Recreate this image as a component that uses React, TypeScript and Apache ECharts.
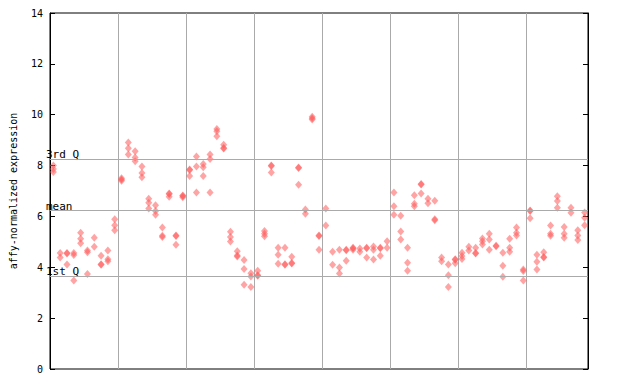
import React, { useEffect, useRef } from "react";
import * as echarts from "echarts";

// values per sample (79 samples, grouped by 10)
const sampleValues: number[][] = [
  [8.0, 7.87, 7.75],
  [4.56, 4.38],
  [4.56, 4.54, 4.11],
  [4.56, 4.48, 3.48],
  [5.36, 5.12, 4.95],
  [4.66, 4.59, 3.74],
  [5.16, 4.81],
  [4.45, 4.12, 4.1],
  [4.66, 4.32, 4.24],
  [5.89, 5.65, 5.46],
  [7.5, 7.45, 7.4],
  [8.91, 8.68, 8.44],
  [8.56, 8.32, 8.17],
  [7.96, 7.71, 7.54],
  [6.7, 6.54, 6.31],
  [6.44, 6.21, 6.07],
  [5.56, 5.24, 5.19],
  [6.9, 6.88, 6.77],
  [5.25, 5.23, 4.89],
  [6.82, 6.8, 6.75],
  [7.85, 7.83, 7.59],
  [8.36, 7.96, 6.94],
  [8.06, 7.93, 7.59],
  [8.44, 8.26, 6.94],
  [9.44, 9.35, 9.15],
  [8.82, 8.69, 8.67],
  [5.4, 5.19, 5.01],
  [4.63, 4.46, 4.42],
  [4.29, 3.93, 3.31],
  [3.77, 3.64, 3.22],
  [3.86, 3.69, 3.67],
  [5.43, 5.32, 5.22],
  [8.0, 7.98, 7.73],
  [4.77, 4.49, 4.14],
  [4.77, 4.12, 4.1],
  [4.41, 4.17, 4.15],
  [7.92, 7.9, 7.25],
  [6.27, 6.11],
  [9.92, 9.86, 9.81],
  [5.25, 5.23, 4.69],
  [6.31, 5.64],
  [4.61, 4.1],
  [4.69, 3.99, 3.76],
  [4.69, 4.67, 4.26],
  [4.77, 4.75, 4.69],
  [4.74, 4.61],
  [4.77, 4.75, 4.38],
  [4.82, 4.69, 4.31],
  [4.77, 4.75, 4.45],
  [5.02, 4.77],
  [6.94, 6.4, 6.07],
  [6.03, 5.41, 5.09],
  [4.77, 4.18, 3.86],
  [6.83, 6.5, 6.4],
  [7.28, 7.26, 6.9],
  [6.7, 6.52],
  [6.62, 5.89, 5.85],
  [4.38, 4.24],
  [4.11, 3.69, 3.22],
  [4.32, 4.3, 4.16],
  [4.57, 4.44, 4.33],
  [4.81, 4.66],
  [4.77, 4.56, 4.54],
  [5.13, 5.02, 4.9],
  [5.32, 5.09, 4.69],
  [4.85, 4.83],
  [4.57, 4.06, 3.63],
  [5.12, 4.77, 4.61],
  [5.56, 5.36, 5.25],
  [3.91, 3.85, 3.48],
  [6.23, 6.21, 5.93],
  [4.49, 4.22, 3.91],
  [4.59, 4.4, 4.38],
  [5.64, 5.32, 5.24],
  [6.79, 6.61, 6.34],
  [5.58, 5.32, 5.16],
  [6.34, 6.14],
  [5.46, 5.25, 5.07],
  [6.15, 5.95, 5.65],
];

const quantileLines = [
  { name: "3rd Q", value: 8.24 },
  { name: "mean", value: 6.23 },
  { name: "1st Q", value: 3.64 },
];

const yTicks = [0, 2, 4, 6, 8, 10, 12, 14];

export default function App() {
  const ref = useRef<HTMLDivElement>(null);
  useEffect(() => {
    document.body.style.margin = "0";
    if (!ref.current) return;
    const chart = echarts.init(ref.current, undefined, { renderer: "svg" });
    const points: number[][] = [];
    sampleValues.forEach((vals, i) => vals.forEach((v) => points.push([i + 0.5, v])));
    const font = "DejaVu Sans Mono";
    chart.setOption({
      animation: false,
      grid: {
        left: 44,
        right: 52,
        top: 13,
        bottom: 15,
        show: true,
        borderColor: "#000",
        borderWidth: 1,
        backgroundColor: "#fff",
      },
      xAxis: {
        type: "value",
        min: 0,
        max: sampleValues.length,
        interval: 10,
        axisLine: { show: false },
        axisTick: { show: false },
        axisLabel: { show: false },
        splitLine: { show: true, lineStyle: { color: "#aaaaaa", width: 1 } },
      },
      yAxis: [
        {
          type: "value",
          min: yTicks[0],
          max: yTicks[yTicks.length - 1],
          interval: 2,
          name: "affy-normalized expression",
          nameLocation: "middle",
          nameGap: 32,
          nameTextStyle: { fontFamily: font, fontSize: 10, color: "#000" },
          axisLine: { show: true, lineStyle: { color: "#000" } },
          axisTick: { show: true, inside: true, length: 5, lineStyle: { color: "#000" } },
          axisLabel: { fontFamily: font, fontSize: 10, color: "#000", margin: 7 },
          splitLine: { show: false },
        },
        {
          type: "value",
          position: "right",
          min: yTicks[0],
          max: yTicks[yTicks.length - 1],
          interval: 2,
          axisLine: { show: true, lineStyle: { color: "#000" } },
          axisTick: { show: true, inside: true, length: 5, lineStyle: { color: "#000" } },
          axisLabel: { show: false },
          splitLine: { show: false },
        },
      ],
      series: [
        {
          type: "scatter",
          data: points,
          symbol: "diamond",
          symbolSize: [7, 8],
          itemStyle: { color: "#ff5a5a", opacity: 0.55 },
          silent: true,
          markLine: {
            silent: true,
            symbol: "none",
            lineStyle: { color: "#aaaaaa", type: "solid", width: 1 },
            label: {
              show: true,
              position: "insideStartTop",
              distance: [-4, -1],
              formatter: "{b}",
              fontFamily: font,
              fontSize: 11,
              color: "#000",
            },
            data: quantileLines.map((q) => ({ name: q.name, yAxis: q.value })),
          },
        },
      ],
    });
    return () => chart.dispose();
  }, []);
  return <div ref={ref} style={{ width: 640, height: 384 }} />;
}
